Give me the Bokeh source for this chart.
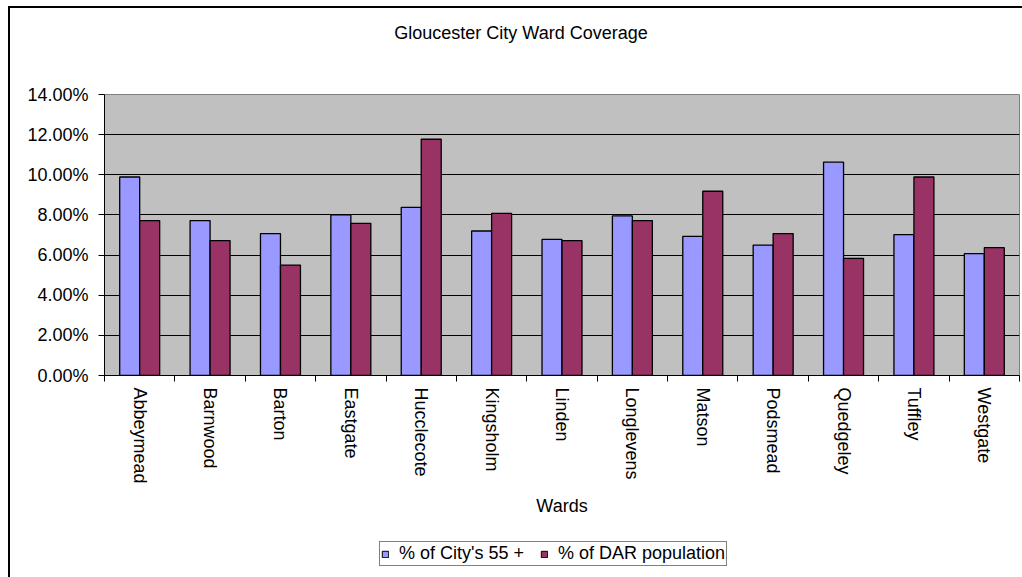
import math
from bokeh.plotting import figure
from bokeh.layouts import column
from bokeh.models import (ColumnDataSource, FixedTicker, NumeralTickFormatter, Range1d,
                          Legend, LegendItem, InlineStyleSheet, Div)
from bokeh.transform import dodge
from bokeh.embed import file_html
from bokeh.resources import INLINE

wards = ["Abbeymead", "Barnwood", "Barton", "Eastgate", "Hucclecote", "Kingsholm", "Linden",
         "Longlevens", "Matson", "Podsmead", "Quedgeley", "Tuffley", "Westgate"]
city_55 = [9.89, 7.72, 7.07, 8.01, 8.38, 7.20, 6.78, 7.95, 6.93, 6.50, 10.63, 7.02, 6.07]
dar_pop = [7.72, 6.72, 5.50, 7.58, 11.77, 8.08, 6.72, 7.72, 9.18, 7.07, 5.84, 9.89, 6.37]
y_ticks = [0.0, 0.02, 0.04, 0.06, 0.08, 0.10, 0.12, 0.14]
series_names = ["% of City's 55 +", "% of DAR population"]
series_colors = ["#9999FF", "#993366"]
title_text = "Gloucester City Ward Coverage"

FONT = "Liberation Sans"
FS = "18px"
W, H_TITLE, H_MAIN, H_LEG = 1022, 60, 470, 47

idx = list(range(len(wards)))
src = ColumnDataSource(dict(
    x=idx,
    city=[v / 100 for v in city_55],
    dar=[v / 100 for v in dar_pop],
))

# ---- title strip (top of the chart area, with the outer border's left/top edges)
title_div = Div(
    text=('<div style="width:1022px;box-sizing:border-box;padding-top:22px;padding-left:20px;'
          'text-align:center;font-family:\'Liberation Sans\';font-size:18px;line-height:22px;'
          'color:#000;">' + title_text + '</div>'),
    width=W, height=H_TITLE, margin=0)
title_div.stylesheets = [InlineStyleSheet(css="""
:host { position: relative; }
:host::after {
  content: ""; position: absolute;
  left: 8px; top: 6px; right: 0px; bottom: 0px;
  border-left: 2px solid #000; border-top: 2px solid #000;
  pointer-events: none; z-index: 10;
}
""")]

left_border_css = """
:host::after {
  content: ""; position: absolute;
  left: 8px; top: 0px; right: 0px; bottom: 0px;
  border-left: 2px solid #000;
  pointer-events: none; z-index: 10;
}
"""

# ---- main chart
p = figure(width=W, height=H_MAIN, output_backend="svg", toolbar_location=None,
           x_range=Range1d(-0.5, len(wards) - 0.5), y_range=Range1d(0, 0.14),
           min_border_left=104, min_border_right=3, min_border_top=34, min_border_bottom=155)
p.background_fill_color = "#C0C0C0"
p.border_fill_color = "white"
p.outline_line_color = "#808080"
p.outline_line_width = 1
p.stylesheets = [InlineStyleSheet(css=left_border_css)]

bw = 0.284
r1 = p.vbar(x=dodge("x", -bw / 2, range=p.x_range), top="city", width=bw, source=src,
            fill_color=series_colors[0], line_color="black", line_width=1.3)
r2 = p.vbar(x=dodge("x", bw / 2, range=p.x_range), top="dar", width=bw, source=src,
            fill_color=series_colors[1], line_color="black", line_width=1.3)

p.xgrid.visible = False
p.ygrid.grid_line_color = "black"
p.ygrid.grid_line_width = 1
p.ygrid.ticker = FixedTicker(ticks=y_ticks)

p.yaxis.ticker = FixedTicker(ticks=y_ticks)
p.yaxis.formatter = NumeralTickFormatter(format="0.00%")
p.yaxis.axis_line_color = "black"
p.yaxis.major_tick_line_color = "black"
p.yaxis.major_tick_out = 6
p.yaxis.major_tick_in = 0
p.yaxis.minor_tick_line_color = None
p.yaxis.major_label_text_font = FONT
p.yaxis.major_label_text_font_size = FS
p.yaxis.major_label_text_color = "black"
p.yaxis.major_label_standoff = 10

p.xaxis.ticker = FixedTicker(ticks=idx, minor_ticks=[i - 0.5 for i in range(len(wards) + 1)])
p.xaxis.major_label_overrides = {i: w for i, w in zip(idx, wards)}
p.xaxis.major_label_orientation = -math.pi / 2
p.xaxis.major_tick_out = 0
p.xaxis.major_tick_in = 0
p.xaxis.minor_tick_out = 6
p.xaxis.minor_tick_in = 0
p.xaxis.minor_tick_line_color = "black"
p.xaxis.axis_line_color = "black"
p.xaxis.major_label_text_font = FONT
p.xaxis.major_label_text_font_size = FS
p.xaxis.major_label_text_color = "black"
p.xaxis.major_label_standoff = 6
p.xaxis.axis_label = "Wards"
p.xaxis.axis_label_text_font = FONT
p.xaxis.axis_label_text_font_size = FS
p.xaxis.axis_label_text_font_style = "normal"
p.xaxis.axis_label_text_color = "black"
p.xaxis.axis_label_standoff = 9

# ---- legend strip below the chart (its glyphs lie far outside its visible ranges)
pl = figure(width=W, height=H_LEG, output_backend="svg", toolbar_location=None,
            x_axis_type=None, y_axis_type=None,
            x_range=Range1d(100, 101), y_range=Range1d(100, 101), min_border=0)
pl.outline_line_color = None
pl.background_fill_color = "white"
pl.grid.visible = False
pl.stylesheets = [InlineStyleSheet(css=left_border_css)]
l1 = pl.vbar(x="x", top="city", width=0.1, source=src,
             fill_color=series_colors[0], line_color="black")
l2 = pl.vbar(x="x", top="dar", width=0.1, source=src,
             fill_color=series_colors[1], line_color="black")

legend = Legend(items=[LegendItem(label=series_names[0], renderers=[l1]),
                       LegendItem(label=series_names[1], renderers=[l2])],
                orientation="horizontal", location=(275, 11),
                label_text_font=FONT, label_text_font_size=FS, label_text_color="black",
                glyph_width=8, glyph_height=8, label_standoff=10, spacing=16,
                padding=1, margin=0, border_line_color="black", border_line_width=1,
                label_height=15)
pl.add_layout(legend, "center")

layout = column(title_div, p, pl, spacing=0)
open("out.html", "w").write(file_html(layout, INLINE))
